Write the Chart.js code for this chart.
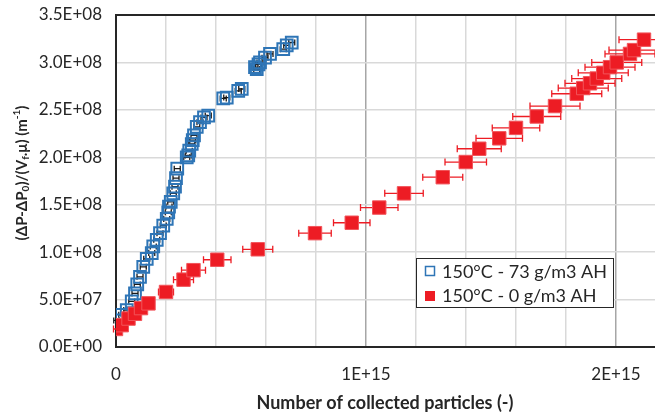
<!DOCTYPE html>
<html>
<head>
<meta charset="utf-8">
<script src="https://cdn.jsdelivr.net/npm/chart.js@4.4.0/dist/chart.umd.min.js"></script>
<style>
  html, body { margin: 0; padding: 0; background: #fff; }
  #lineChart { display: block; }
</style>
</head>
<body>
<canvas id="lineChart" width="655" height="413"></canvas>
<script>
// values, x in units of 1E+15, y in units of 1E+08
var humidX = [0.003, 0.023, 0.043, 0.063, 0.076, 0.085, 0.096, 0.109, 0.123, 0.143, 0.149, 0.163, 0.176, 0.189, 0.203,
    0.209, 0.212, 0.219, 0.229, 0.236, 0.240, 0.245, 0.283, 0.289, 0.293, 0.303, 0.307, 0.312, 0.323, 0.336, 0.352, 0.369,
    0.429, 0.443, 0.489, 0.503, 0.556, 0.563, 0.570, 0.576, 0.596, 0.616, 0.669, 0.683, 0.703];
var humidY = [0.28, 0.34, 0.39, 0.48, 0.565, 0.66, 0.74, 0.845, 0.93, 0.99, 1.06, 1.13, 1.20, 1.28, 1.35,
    1.42, 1.48, 1.53, 1.62, 1.69, 1.78, 1.88, 2.00, 2.02, 2.07, 2.14, 2.18, 2.23, 2.32, 2.37, 2.42, 2.44,
    2.62, 2.63, 2.70, 2.72, 2.95, 2.93, 2.98, 3.00, 3.05, 3.09, 3.14, 3.18, 3.21];
var humidErr = 0.012;

var dryX = [0, 0.023, 0.05, 0.076, 0.10, 0.13, 0.20, 0.27, 0.31, 0.405, 0.567, 0.796, 0.943, 1.053, 1.152, 1.307,
    1.399, 1.453, 1.533, 1.60, 1.683, 1.756, 1.843, 1.869, 1.896, 1.923, 1.949, 1.976, 2.003, 2.056, 2.072, 2.112];
var dryY = [0.19, 0.23, 0.30, 0.35, 0.41, 0.46, 0.58, 0.71, 0.81, 0.92, 1.03, 1.20, 1.31, 1.47, 1.62, 1.79,
    1.95, 2.09, 2.20, 2.31, 2.43, 2.54, 2.67, 2.73, 2.78, 2.83, 2.89, 2.95, 3.00, 3.09, 3.13, 3.24];
var dryErr = [0.01, 0.01, 0.01, 0.015, 0.02, 0.02, 0.03, 0.04, 0.048, 0.055, 0.06, 0.065, 0.073, 0.075, 0.077, 0.08,
    0.083, 0.088, 0.093, 0.095, 0.096, 0.10, 0.10, 0.10, 0.10, 0.10, 0.10, 0.10, 0.10, 0.10, 0.10, 0.10];

var seriesLabels = ["150°C - 73 g/m3 AH", "150°C - 0 g/m3 AH"];
var xTickValues = [0, 0.2, 0.4, 0.6, 0.8, 1.0, 1.2, 1.4, 1.6, 1.8, 2.0];   // grid lines, 1E+15
var xTickLabels = ["0", "1E+15", "2E+15"];
var xMax = 2.156;
var yTickValues = [0, 0.5, 1.0, 1.5, 2.0, 2.5, 3.0, 3.5];                 // 1E+08
var xTitle = "Number of collected particles (-)";

var BLUE = "#2E75B6";
var RED = "#ED1C24";
var FONT = "Lato, 'Open Sans', sans-serif";

function toPoints(xs, ys, errs) {
    var pts = [];
    for (var i = 0; i < xs.length; i++) {
        var e = Array.isArray(errs) ? errs[i] : errs;
        pts.push({ x: xs[i] * 1e15, y: ys[i] * 1e8, err: e * 1e15 });
    }
    return pts;
}

function sci(v) {
    if (v === 0) return "0.0E+00";
    var exp = Math.floor(Math.log10(v) + 1e-9);
    var m = v / Math.pow(10, exp);
    return m.toFixed(1) + "E+" + (exp < 10 ? "0" : "") + exp;
}

function isWhole(v) {
    var k = v / 1e15;
    return Math.abs(k - Math.round(k)) < 1e-6;
}

// horizontal error bars, drawn under the markers
var errorBars = {
    id: "errorBars",
    beforeDatasetsDraw: function (chart) {
        var ctx = chart.ctx;
        var xs = chart.scales.x, ys = chart.scales.y;
        // top frame line
        ctx.save();
        ctx.strokeStyle = "#262626";
        ctx.lineWidth = 2;
        ctx.beginPath();
        ctx.moveTo(chart.chartArea.left, chart.chartArea.top);
        ctx.lineTo(chart.chartArea.right, chart.chartArea.top);
        ctx.stroke();
        chart.data.datasets.forEach(function (ds) {
            ctx.strokeStyle = ds.errColor;
            ctx.lineWidth = 1.3;
            ds.data.forEach(function (p) {
                var x1 = xs.getPixelForValue(p.x - p.err);
                var x2 = xs.getPixelForValue(p.x + p.err);
                var y = ys.getPixelForValue(p.y);
                var cap = ds.capSize;
                ctx.beginPath();
                ctx.moveTo(x1, y); ctx.lineTo(x2, y);
                ctx.moveTo(x1, y - cap); ctx.lineTo(x1, y + cap);
                ctx.moveTo(x2, y - cap); ctx.lineTo(x2, y + cap);
                ctx.stroke();
            });
        });
        ctx.restore();
    }
};

// axis titles and the boxed legend
var decorations = {
    id: "decorations",
    afterDraw: function (chart) {
        var ctx = chart.ctx;
        ctx.save();
        ctx.fillStyle = "#262626";
        ctx.textBaseline = "middle";

        // x title
        ctx.font = "bold 18px " + FONT;
        ctx.textAlign = "center";
        ctx.fillText(xTitle, 385, 403);

        // y title with sub/superscripts
        var parts = [
            { t: "(ΔP-ΔP", s: 0 }, { t: "0", s: 1 }, { t: ")/(V", s: 0 }, { t: "f", s: 1 },
            { t: ".μ) (m", s: 0 }, { t: "-1", s: -1 }, { t: ")", s: 0 }
        ];
        var big = "bold 15px " + FONT, small = "bold 10px " + FONT;
        var total = 0;
        parts.forEach(function (p) {
            ctx.font = p.s ? small : big;
            p.w = ctx.measureText(p.t).width;
            total += p.w;
        });
        ctx.translate(22, 173);
        ctx.rotate(-Math.PI / 2);
        ctx.textAlign = "left";
        var cx = -total / 2;
        parts.forEach(function (p) {
            ctx.font = p.s ? small : big;
            ctx.fillText(p.t, cx, p.s === 1 ? 4 : (p.s === -1 ? -5 : 0));
            cx += p.w;
        });
        ctx.restore();

        // legend
        ctx.save();
        ctx.fillStyle = "#fff";
        ctx.fillRect(416, 258, 197, 49);
        ctx.strokeStyle = "#262626";
        ctx.lineWidth = 1;
        ctx.strokeRect(416.5, 258.5, 197, 49);
        ctx.strokeStyle = BLUE;
        ctx.lineWidth = 1.5;
        ctx.strokeRect(425.5, 266.5, 9, 9);
        ctx.fillStyle = RED;
        ctx.fillRect(425, 291, 10, 10);
        ctx.fillStyle = "#262626";
        ctx.font = "18px " + FONT;
        ctx.textBaseline = "middle";
        ctx.fillText(seriesLabels[0], 442, 272);
        ctx.fillText(seriesLabels[1], 442, 296);
        ctx.restore();
    }
};

// let the plot area run to the right edge of the canvas, as in the picture
var fullWidth = {
    id: "fullWidth",
    afterLayout: function (chart) {
        var xs = chart.scales.x;
        var extra = chart.width - chart.chartArea.right;
        if (extra > 0) {
            chart.chartArea.right += extra;
            chart.chartArea.width += extra;
            xs.right += extra;
            xs.width += extra;
            xs.configure();
        }
    }
};

const CHART = document.getElementById("lineChart");
var scatterChart = new Chart(CHART, {
    type: "scatter",
    data: {
        datasets: [
            {
                label: seriesLabels[0],
                data: toPoints(humidX, humidY, humidErr),
                pointStyle: "rect",
                pointRadius: 8.3,
                pointBorderWidth: 2,
                borderColor: BLUE,
                backgroundColor: "rgba(0,0,0,0)",
                errColor: "#1a1a1a",
                capSize: 3,
                order: 1
            },
            {
                label: seriesLabels[1],
                data: toPoints(dryX, dryY, dryErr),
                pointStyle: "rect",
                pointRadius: 9.5,
                pointBorderWidth: 1,
                borderColor: "#F2545A",
                backgroundColor: RED,
                errColor: RED,
                capSize: 3.5,
                order: 0
            }
        ]
    },
    options: {
        responsive: false,
        animation: false,
        devicePixelRatio: 1,
        layout: { padding: { top: 15, right: 0, left: 0, bottom: 0 } },
        plugins: { legend: { display: false }, tooltip: { enabled: false } },
        scales: {
            x: {
                type: "linear",
                bounds: "data",
                min: 0,
                max: xMax * 1e15,
                afterBuildTicks: function (scale) {
                    scale.ticks = xTickValues.map(function (v) { return { value: v * 1e15 }; });
                    scale.min = 0;
                    scale.max = xMax * 1e15;
                },
                afterFit: function (scale) {
                    scale.height = 66;
                    scale.paddingLeft = 0;
                    scale.paddingRight = 0;
                },
                border: { color: "#262626", width: 2 },
                grid: {
                    drawTicks: false,
                    color: function (c) {
                        var v = c.tick ? c.tick.value : 0;
                        return (v > 0 && isWhole(v)) ? "#A6A6A6" : "#D9D9D9";
                    },
                    lineWidth: 1.5
                },
                ticks: {
                    padding: 17,
                    maxRotation: 0,
                    autoSkip: false,
                    color: "#262626",
                    font: { family: FONT, size: 17 },
                    callback: function (v) {
                        if (isWhole(v)) return xTickLabels[Math.round(v / 1e15)];
                        return "";
                    }
                }
            },
            y: {
                type: "linear",
                bounds: "data",
                min: 0,
                max: 3.5e8,
                afterBuildTicks: function (scale) {
                    scale.ticks = yTickValues.map(function (v) { return { value: v * 1e8 }; });
                    scale.min = 0;
                    scale.max = 3.5e8;
                },
                afterFit: function (scale) {
                    scale.width = 116;
                    scale.paddingTop = 0;
                    scale.paddingBottom = 0;
                    scale.paddingLeft = 0;
                    scale.paddingRight = 0;
                },
                border: { color: "#262626", width: 2 },
                grid: { drawTicks: false, color: "#D9D9D9", lineWidth: 1.5 },
                ticks: {
                    padding: 14,
                    color: "#262626",
                    font: { family: FONT, size: 17 },
                    callback: function (v) { return sci(v); }
                }
            }
        }
    },
    plugins: [errorBars, decorations, fullWidth]
});
</script>
</body>
</html>
